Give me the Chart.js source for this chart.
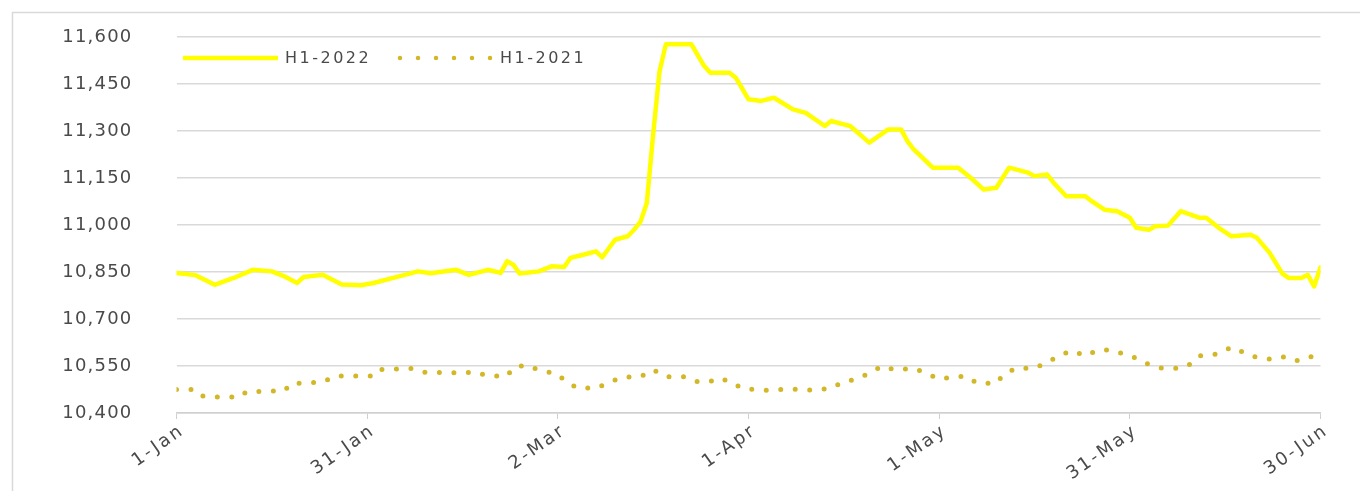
<!DOCTYPE html>
<html>
<head>
<meta charset="utf-8">
<script src="https://cdn.jsdelivr.net/npm/chart.js@4/dist/chart.umd.min.js"></script>
<style>
html,body{margin:0;padding:0;background:#fff;overflow:hidden;}
#wrap{position:relative;width:1360px;height:491px;}
</style>
</head>
<body>
<div id="wrap"><canvas id="c" width="1360" height="491"></canvas></div>
<script>
// ---- Data (day index from 1-Jan, value) ----
const seriesNames = ['H1-2022', 'H1-2021'];
const days2022 = [0,3,6,9,12,15,17,19,20,23,26,29,31,35,38,40,44,46,49,51,52,53,54,57,59,61,62,64,66,67,69,71,72,73,74,75,76,77,81,83,84,87,88,90,92,94,97,99,102,103,105,106,109,112,114,115,116,119,123,125,127,129,131,134,135,137,138,140,143,144,146,148,150,151,153,154,156,158,161,162,164,166,169,170,172,174,175,177,178,179,180];
const vals2022 = [10847,10840,10809,10831,10857,10852,10836,10815,10834,10841,10810,10808,10815,10836,10852,10846,10857,10841,10857,10847,10884,10873,10845,10852,10868,10866,10895,10905,10916,10897,10953,10964,10985,11010,11070,11290,11490,11577,11577,11508,11486,11486,11470,11401,11396,11406,11369,11358,11316,11332,11321,11316,11263,11305,11305,11268,11241,11183,11183,11150,11113,11119,11183,11167,11156,11161,11135,11092,11092,11076,11049,11044,11023,10991,10985,10996,10998,11044,11023,11023,10991,10964,10969,10959,10911,10845,10831,10831,10841,10804,10865];
const days2021 = [0,3,4,5,10,11,17,18,23,25,31,32,37,39,45,47,49,52,53,55,57,60,61,63,66,68,70,73,75,77,80,82,84,85,87,89,92,94,96,98,100,103,105,107,109,111,113,116,118,120,122,124,126,129,130,132,135,137,139,141,143,145,147,149,151,153,155,158,160,161,164,166,167,169,172,174,176,178,180];
const vals2021 = [10475,10475,10455,10451,10451,10468,10471,10494,10499,10518,10518,10539,10542,10530,10528,10531,10518,10518,10545,10553,10537,10524,10505,10480,10479,10497,10514,10516,10538,10516,10516,10500,10500,10511,10502,10478,10473,10473,10476,10476,10473,10479,10500,10508,10527,10550,10538,10543,10527,10508,10514,10518,10495,10495,10520,10543,10543,10561,10585,10599,10582,10601,10601,10589,10575,10555,10543,10543,10560,10582,10589,10610,10602,10582,10572,10580,10566,10573,10598];
const tickValues = [0,30,60,90,120,150,180];
const tickLabels = ['1-Jan','31-Jan','2-Mar','1-Apr','1-May','31-May','30-Jun'];
const yMin = 10400, yMax = 11600, yStep = 150;

const colors = ['#FFFF00', '#D2B828'];
const textColor = '#4a4a4a';

const toPoints = (d, v) => d.map((x, i) => ({x: x, y: v[i]}));

const decor = {
  id: 'decor',
  beforeLayout(chart) { chart.ctx.letterSpacing = '1.2px'; },
  beforeDraw(chart) {
    const ctx = chart.ctx;
    ctx.save();
    ctx.strokeStyle = '#d9d9d9';
    ctx.lineWidth = 1.5;
    ctx.beginPath();
    ctx.moveTo(12, 12.5); ctx.lineTo(1360, 12.5);
    ctx.moveTo(12.5, 12); ctx.lineTo(12.5, 491);
    ctx.stroke();
    ctx.restore();
    ctx.letterSpacing = '1.2px';
  },
  afterDraw(chart) {
    const ctx = chart.ctx;
    const xs = chart.scales.x;
    const bottom = chart.chartArea.bottom;
    // x tick labels
    ctx.save();
    ctx.letterSpacing = '2.5px';
    ctx.font = '18px "DejaVu Sans"';
    ctx.fillStyle = textColor;
    ctx.textAlign = 'right';
    ctx.textBaseline = 'middle';
    xs.ticks.forEach(t => {
      const idx = tickValues.indexOf(t.value);
      if (idx < 0) return;
      const px = xs.getPixelForValue(t.value);
      ctx.save();
      ctx.translate(px + 6, bottom + 16);
      ctx.rotate(-35 * Math.PI / 180);
      ctx.fillText(tickLabels[idx], 0, 0);
      ctx.restore();
    });
    ctx.restore();
    // legend
    ctx.save();
    const ly = 58;
    ctx.lineWidth = 4.5;
    ctx.strokeStyle = colors[0];
    ctx.beginPath(); ctx.moveTo(183, ly); ctx.lineTo(278, ly); ctx.stroke();
    ctx.strokeStyle = colors[1];
    ctx.lineCap = 'round';
    ctx.lineWidth = 4.5;
    ctx.setLineDash([0, 18]);
    ctx.beginPath(); ctx.moveTo(400, ly); ctx.lineTo(492, ly); ctx.stroke();
    ctx.setLineDash([]);
    ctx.letterSpacing = '2.5px';
    ctx.font = '16px "DejaVu Sans"';
    ctx.fillStyle = textColor;
    ctx.textAlign = 'left';
    ctx.textBaseline = 'middle';
    ctx.fillText(seriesNames[0], 285, ly + 1);
    ctx.fillText(seriesNames[1], 500, ly + 1);
    ctx.restore();
  }
};

new Chart(document.getElementById('c'), {
  type: 'line',
  data: {
    datasets: [
      {
        label: seriesNames[0],
        data: toPoints(days2022, vals2022),
        borderColor: colors[0],
        borderWidth: 4.5,
        pointRadius: 0,
        tension: 0,
        borderJoinStyle: 'round',
        borderCapStyle: 'round'
      },
      {
        label: seriesNames[1],
        data: toPoints(days2021, vals2021),
        borderColor: colors[1],
        borderWidth: 5,
        borderDash: [0, 14.5],
        borderCapStyle: 'round',
        pointRadius: 0,
        tension: 0
      }
    ]
  },
  options: {
    responsive: false,
    animation: false,
    events: [],
    layout: { autoPadding: false, padding: { left: 0, right: 39.5, top: 37, bottom: 0 } },
    plugins: { legend: { display: false }, tooltip: { enabled: false } },
    scales: {
      x: {
        type: 'linear',
        min: 0, max: 180,
        afterFit(s) { s.height = 78; s.paddingLeft = 0; s.paddingRight = 0; },
        afterBuildTicks(s) { s.ticks = tickValues.map(v => ({value: v})); },
        ticks: { display: false, stepSize: 30 },
        grid: { display: true, drawOnChartArea: false, drawTicks: true, tickLength: 6, color: '#d0d0d0' },
        border: { display: true, color: '#d0d0d0', width: 1.5 }
      },
      y: {
        min: yMin, max: yMax,
        afterFit(s) { s.width = 176.5; s.paddingTop = 0; s.paddingBottom = 0; },
        ticks: {
          stepSize: yStep,
          padding: 44,
          color: textColor,
          font: { family: '"DejaVu Sans"', size: 18 },
          callback: v => v.toLocaleString('en-US')
        },
        grid: { color: '#d9d9d9', lineWidth: 1.5, drawTicks: false },
        border: { display: false }
      }
    }
  },
  plugins: [decor]
});
</script>
</body>
</html>
